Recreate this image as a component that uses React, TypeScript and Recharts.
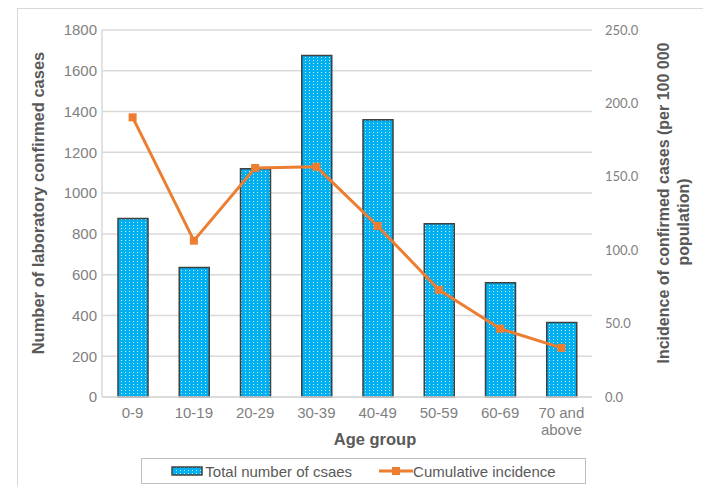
import React from 'react';
import {
  ComposedChart,
  Bar,
  Line,
  XAxis,
  YAxis,
  CartesianGrid,
  Legend,
} from 'recharts';

const ageGroups = ['0-9', '10-19', '20-29', '30-39', '40-49', '50-59', '60-69', '70 and above'];
const totalCases = [875, 635, 1120, 1675, 1360, 850, 560, 365];
const cumulativeIncidence = [190.5, 106.5, 156.0, 156.8, 116.5, 73.0, 46.5, 33.5];

const casesTicks = [0, 200, 400, 600, 800, 1000, 1200, 1400, 1600, 1800];
const incidenceTicks = [0, 50, 100, 150, 200, 250];

const data = ageGroups.map((group, i) => ({
  group,
  cases: totalCases[i],
  incidence: cumulativeIncidence[i],
}));

const BLUE = '#00B0F0';
const ORANGE = '#ED7D31';
const TICK_GREY = '#7f7f7f';
const TITLE_GREY = '#595959';
const FONT = '"Liberation Sans", Arial, sans-serif';

// splits long category names onto two lines ("70 and" / "above")
const AgeTick = (props: any) => {
  const { x, y, payload } = props;
  const label: string = payload.value;
  let lines = [label];
  if (label.length > 6) {
    const cut = label.lastIndexOf(' ');
    lines = [label.slice(0, cut), label.slice(cut + 1)];
  }
  return (
    <text x={x} y={y} textAnchor="middle" fill={TICK_GREY} fontSize={15} fontFamily={FONT}>
      {lines.map((ln, i) => (
        <tspan key={i} x={x} dy={i === 0 ? 13 : 16.5}>
          {ln}
        </tspan>
      ))}
    </text>
  );
};

const SquareDot = (props: any) => {
  const { cx, cy, index } = props;
  return <rect key={`dot-${index}`} x={cx - 4} y={cy - 4} width={8} height={8} fill={ORANGE} />;
};

const LegendBox = () => (
  <div
    style={{
      width: 445,
      height: 26,
      boxSizing: 'border-box',
      border: '1px solid #bfbfbf',
      display: 'flex',
      alignItems: 'center',
      justifyContent: 'center',
      fontFamily: FONT,
      fontSize: 15,
      color: TITLE_GREY,
    }}
  >
    <svg width={32} height={10} style={{ marginRight: 2 }}>
      <rect x={1} y={1} width={30} height={8} fill="url(#dots-legend)" stroke="#404040" strokeWidth={1.5} />
      <defs>
        <pattern id="dots-legend" width={4} height={3} patternUnits="userSpaceOnUse">
          <rect width={4} height={3} fill={BLUE} />
          <rect x={1} y={1} width={1} height={1} fill="#fff" opacity={0.8} />
        </pattern>
      </defs>
    </svg>
    <span>Total number of csaes</span>
    <svg width={34} height={10} style={{ marginLeft: 27 }}>
      <line x1={0} y1={5} x2={34} y2={5} stroke={ORANGE} strokeWidth={3} />
      <rect x={13} y={1} width={8} height={8} fill={ORANGE} />
    </svg>
    <span>Cumulative incidence</span>
  </div>
);

export default function App() {
  return (
    <div style={{ position: 'relative', width: 703, height: 478, fontFamily: FONT }}>
      <div
        style={{
          position: 'absolute',
          left: 9,
          top: 0,
          width: 690,
          height: 478,
          borderTop: '1px solid #d9d9d9',
          borderLeft: '1px solid #d9d9d9',
          borderRight: '1px solid #d9d9d9',
          boxSizing: 'border-box',
        }}
      />
      <ComposedChart
        width={703}
        height={478}
        data={data}
        margin={{ top: 22, right: 0, bottom: 59, left: 0 }}
        barCategoryGap="51%"
        style={{ position: 'absolute', left: 0, top: 0 }}
      >
        <defs>
          <pattern id="dots" width={4} height={3} patternUnits="userSpaceOnUse">
            <rect width={4} height={3} fill={BLUE} />
            <rect x={1} y={1} width={1} height={1} fill="#fff" opacity={0.8} />
          </pattern>
        </defs>
        <CartesianGrid yAxisId="left" vertical={false} stroke="#d9d9d9" strokeWidth={1.5} />
        <XAxis
          dataKey="group"
          height={30}
          interval={0}
          tickLine={false}
          axisLine={{ stroke: '#d9d9d9', strokeWidth: 1.5 }}
          tick={<AgeTick />}
          tickSize={0}
          tickMargin={8}
          label={() => (
            <text x={367} y={437} textAnchor="middle" fill={TITLE_GREY} fontSize={16.5} fontWeight="bold" fontFamily={FONT}>
              Age group
            </text>
          )}
        />
        <YAxis
          yAxisId="left"
          width={94}
          domain={[0, 1800]}
          ticks={casesTicks}
          interval={0}
          tickLine={false}
          tickSize={3}
          tickMargin={2}
          axisLine={{ stroke: '#d9d9d9', strokeWidth: 1.5 }}
          tick={{ fill: TICK_GREY, fontSize: 15, fontFamily: FONT }}
          label={() => (
            <text
              x={30}
              y={195}
              transform="rotate(-90 30 195)"
              textAnchor="middle"
              dominantBaseline="central"
              fill={TITLE_GREY}
              fontSize={16.5}
              fontWeight="bold"
              fontFamily={FONT}
            >
              Number of laboratory confirmed cases
            </text>
          )}
        />
        <YAxis
          yAxisId="right"
          orientation="right"
          width={119}
          domain={[0, 250]}
          ticks={incidenceTicks}
          interval={0}
          tickLine={false}
          axisLine={false}
          tickSize={6}
          tickMargin={7}
          tickFormatter={(v: number) => v.toFixed(1)}
          tick={{ fill: TICK_GREY, fontSize: 13, fontFamily: 'Lato, sans-serif' }}
          label={() => (
            <g fill={TITLE_GREY} fontSize={16} fontWeight="bold" fontFamily={FONT}>
              <text x={655} y={195} transform="rotate(-90 655 195)" textAnchor="middle" dominantBaseline="central">
                Incidence of confirmed cases (per 100 000
              </text>
              <text x={675} y={214} transform="rotate(-90 675 214)" textAnchor="middle" dominantBaseline="central">
                population)
              </text>
            </g>
          )}
        />
        <Bar
          yAxisId="left"
          dataKey="cases"
          name="Total number of csaes"
          fill="url(#dots)"
          stroke="#404040"
          strokeWidth={1.5}
          barSize={30}
          isAnimationActive={false}
        />
        <Line
          yAxisId="right"
          dataKey="incidence"
          name="Cumulative incidence"
          type="linear"
          stroke={ORANGE}
          strokeWidth={3}
          dot={<SquareDot />}
          activeDot={false}
          isAnimationActive={false}
        />
        <Legend
          layout="horizontal"
          verticalAlign="middle"
          align="center"
          wrapperStyle={{ left: 133, top: 450, width: 445, height: 26 }}
          content={() => <LegendBox />}
        />
      </ComposedChart>
    </div>
  );
}
